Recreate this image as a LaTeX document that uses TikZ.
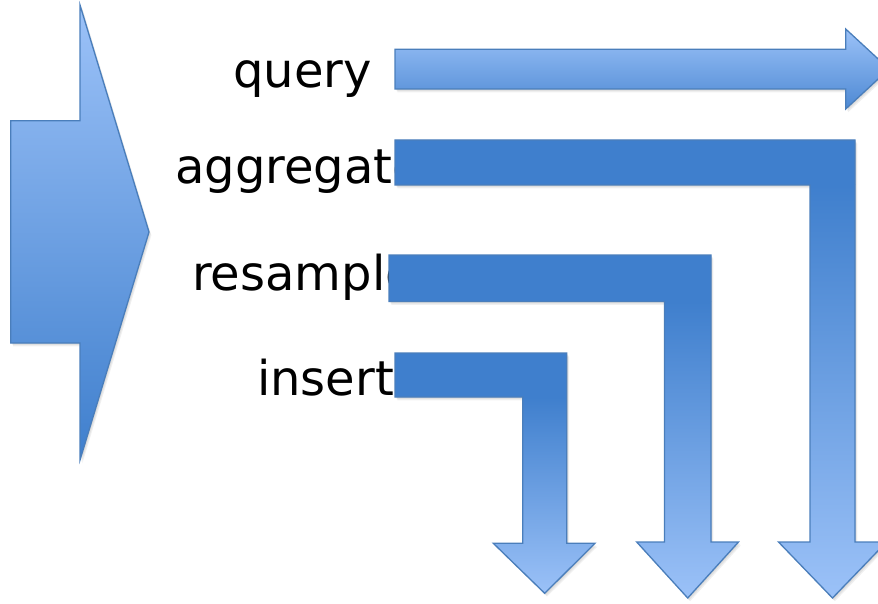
\documentclass[tikz,border=0pt]{standalone}
\usepackage{fontspec}
\setmainfont{DejaVu Sans}
\definecolor{arrowlight}{HTML}{9CC2F8}
\definecolor{arrowdark}{HTML}{3F7FCD}
\definecolor{arrowedge}{HTML}{4A7EBB}
\tikzset{
  arrowline/.style={draw=arrowedge, line width=1.3pt, line join=miter},
  wordlabel/.style={font=\fontsize{48}{54}\selectfont, inner sep=0pt, text=black},
}
% soft drop shadow built from a few faint offset copies
\newcommand\shadowof[1]{%
  \foreach \s in {1,2,3}{\fill[black,opacity=0.06,xshift=\s*0.8pt,yshift=-\s*1.1pt] #1;}}
% bent block arrow: solid top bar, vertical part fading to light
\newcommand\bentarrow[4]{%
  \shadowof{#1}
  \begin{scope}
    \clip #1;
    \fill[arrowdark] (300,#2-5) rectangle (900,#3);
    \shade[top color=arrowdark, bottom color=arrowlight] (300,#3) rectangle (900,#4+2);
  \end{scope}
  \draw[arrowline] #1;}
\begin{document}
\begin{tikzpicture}[x=1pt,y=-1pt]
\useasboundingbox (0,0) rectangle (878,604);

% operation names
\node[wordlabel, anchor=base east] (query) at (372,88) {query};
\node[wordlabel, anchor=base west] (aggregate) at (175,184) {aggregate};
\node[wordlabel, anchor=base west] (resample) at (192,290) {resample};
\node[wordlabel, anchor=base west] (insert) at (257,395) {insert};

% incoming chevron arrow
\def\inpath{(10.7,120.7) -- (80,120.7) -- (80,5) -- (149,232) -- (80,460) -- (80,343) -- (10.7,343) -- cycle}
\shadowof{\inpath}
\shade[top color=arrowlight, bottom color=arrowdark] \inpath;
\draw[arrowline] \inpath;

% query: straight arrow to the right
\def\qpath{(395,49.3) -- (845.7,49.3) -- (845.7,29) -- (889,69) -- (845.7,109) -- (845.7,89) -- (395,89) -- cycle}
\shadowof{\qpath}
\shade[top color=arrowlight, bottom color=arrowdark!85!arrowlight] \qpath;
\draw[arrowline] \qpath;

% aggregate
\def\apath{(395,140) -- (855,140) -- (855,542) -- (886.5,542) -- (832.5,598) -- (778.5,542) -- (810,542) -- (810,185) -- (395,185) -- cycle}
\bentarrow{\apath}{140}{185}{598}

% resample
\def\rpath{(389,255) -- (711,255) -- (711,542) -- (738.5,542) -- (687.7,598) -- (636.7,542) -- (664.5,542) -- (664.5,301.5) -- (389,301.5) -- cycle}
\bentarrow{\rpath}{255}{301.5}{598}

% insert
\def\ipath{(395,353) -- (566.7,353) -- (566.7,543.3) -- (595,543.3) -- (544.7,593.3) -- (493.3,543.3) -- (522.7,543.3) -- (522.7,397) -- (395,397) -- cycle}
\bentarrow{\ipath}{353}{397}{593.3}
\end{tikzpicture}
\end{document}
